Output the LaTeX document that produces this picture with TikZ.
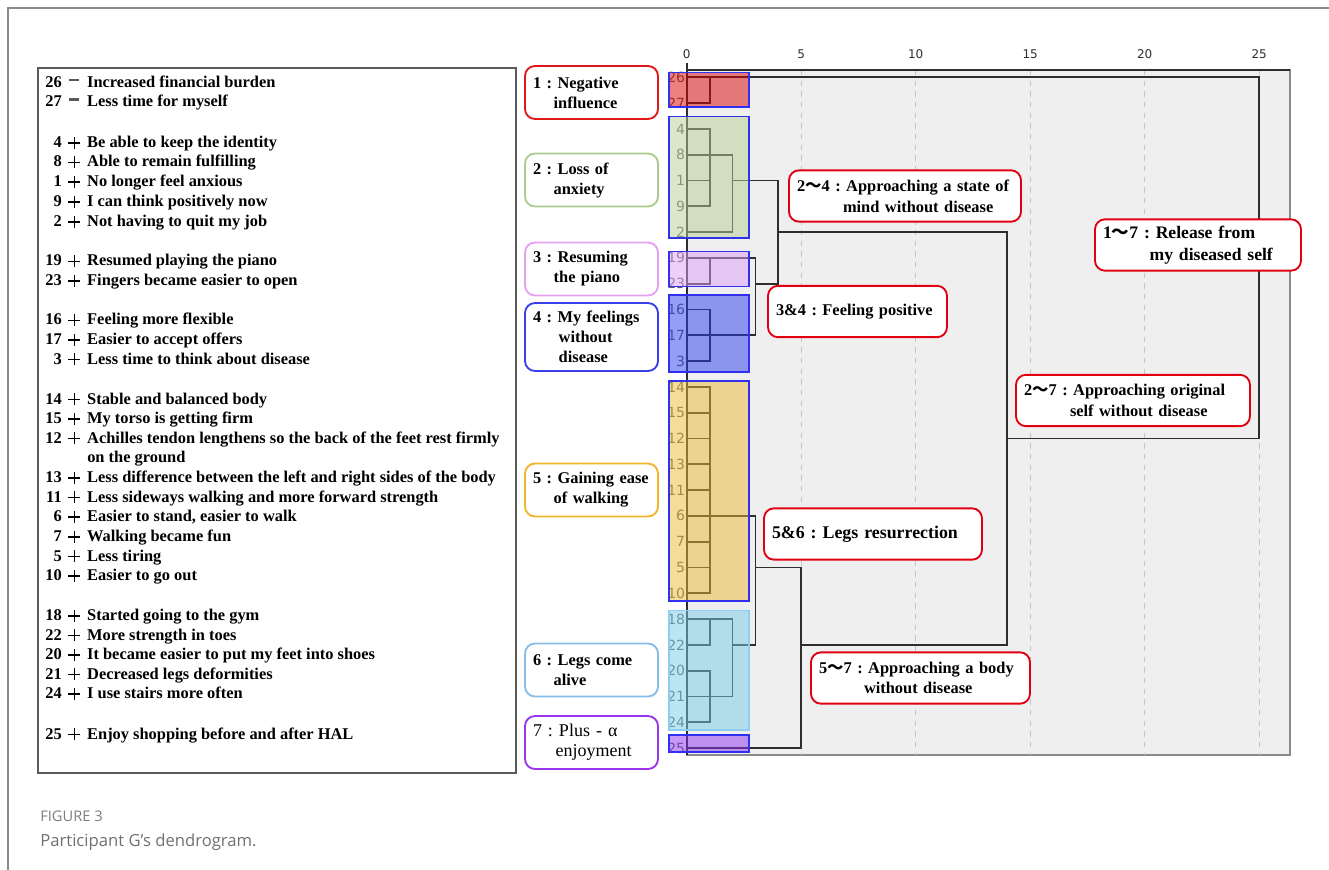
\documentclass[tikz,border=0pt]{standalone}
\usepackage{fontspec}
\setmainfont{Liberation Serif}
\newfontfamily\chartfont{DejaVu Sans}
\newfontfamily\capfont{Open Sans}
\newfontfamily\cjk{Noto Sans CJK JP}
\frenchspacing

\definecolor{lineGray}{HTML}{2E2E2E}
\definecolor{leafGray}{HTML}{5E5E5E}
\definecolor{plotBg}{HTML}{EFEFEF}
\definecolor{frameGray}{HTML}{8A8A8A}
\definecolor{boxGray}{HTML}{5A5A5A}
\definecolor{gridGray}{HTML}{C4C4C4}
\definecolor{capGray}{HTML}{7E7E7E}
\definecolor{capText}{HTML}{707070}
\definecolor{noteRed}{HTML}{E00010}
\definecolor{groupBlue}{HTML}{3030F0}
\definecolor{c1Red}{HTML}{E01818}
\definecolor{c2Green}{HTML}{A9CB8E}
\definecolor{c3Pink}{HTML}{E6A0F2}
\definecolor{c4Blue}{HTML}{3A3FEA}
\definecolor{c5Gold}{HTML}{F0B52A}
\definecolor{c6Sky}{HTML}{86BDEA}
\definecolor{c7Purple}{HTML}{9A35EC}
\definecolor{fRed}{HTML}{DB0000}
\definecolor{fGreen}{HTML}{B7CF93}
\definecolor{fPink}{HTML}{E19DF5}
\definecolor{fBlue}{HTML}{293DED}
\definecolor{fGold}{HTML}{EBB931}
\definecolor{fSky}{HTML}{77CBE7}
\definecolor{fPurple}{HTML}{8D33F1}
\definecolor{skyEdge}{HTML}{8ECDF0}

\newcommand{\lead}[2]{\makebox[16.1pt][r]{#1}\makebox[19.1pt]{#2}}
\newcommand{\plussign}{\raisebox{2.8pt}{\rlap{\rule{9pt}{1.2pt}}}\hspace*{3.9pt}\raisebox{-1.1pt}{\rule{1.2pt}{9pt}}\hspace*{3.9pt}}
\newcommand{\minussign}{\raisebox{4.6pt}{\color{boxGray}\rule{7.5pt}{1.8pt}}}
\newcommand{\wave}{{\cjk ～}}

\begin{document}
\begin{tikzpicture}[x=0.75pt, y=-0.75pt,
  every node/.style={font=\bfseries\fontsize{12.3}{15}\selectfont},
  entry/.style={anchor=base west, inner sep=0pt},
  clusterbox/.style={draw, fill=white, rounded corners=7.5pt, line width=1.4pt, align=left, text width=87.75pt, inner xsep=6pt, minimum height=39.75pt},
  notebox/.style={draw=noteRed, fill=white, rounded corners=7.5pt, line width=1.4pt, align=left, inner xsep=6pt, minimum height=38.5pt, font=\bfseries\fontsize{12.3}{15.5}\selectfont},
  leaf/.style={anchor=east, inner sep=1pt, font=\chartfont\fontsize{10.5}{11}\selectfont, text=leafGray},
  tick/.style={font=\chartfont\fontsize{9}{10}\selectfont, text=lineGray},
  dline/.style={draw=lineGray, line width=1.35pt},
  gridline/.style={draw=gridGray, line width=0.7pt, dash pattern=on 4pt off 4pt},
  group/.style={fill opacity=0.5, draw=groupBlue, line width=0.8pt}
]
  \useasboundingbox (0,0) rectangle (1329,870);
  \draw[frameGray, line width=1pt] (8,870) -- (8,8) -- (1329,8);

  \draw[draw=boxGray, line width=1pt] (38,68) rectangle (516,773);
  \node[entry] (i26) at (40,87.5) {\lead{26}{\minussign}Increased financial burden};
  \node[entry] (i27) at (40,107) {\lead{27}{\minussign}Less time for myself};
  \node[entry] (i4) at (40,147.5) {\lead{4}{\plussign}Be able to keep the identity};
  \node[entry] (i8) at (40,167) {\lead{8}{\plussign}Able to remain fulfilling};
  \node[entry] (i1) at (40,186.5) {\lead{1}{\plussign}No longer feel anxious};
  \node[entry] (i9) at (40,206.5) {\lead{9}{\plussign}I can think positively now};
  \node[entry] (i2) at (40,226.5) {\lead{2}{\plussign}Not having to quit my job};
  \node[entry] (i19) at (40,266) {\lead{19}{\plussign}Resumed playing the piano};
  \node[entry] (i23) at (40,285.5) {\lead{23}{\plussign}Fingers became easier to open};
  \node[entry] (i16) at (40,325) {\lead{16}{\plussign}Feeling more flexible};
  \node[entry] (i17) at (40,344.5) {\lead{17}{\plussign}Easier to accept offers};
  \node[entry] (i3) at (40,364) {\lead{3}{\plussign}Less time to think about disease};
  \node[entry] (i14) at (40,404) {\lead{14}{\plussign}Stable and balanced body};
  \node[entry] (i15) at (40,423.5) {\lead{15}{\plussign}My torso is getting firm};
  \node[entry] (i12) at (40,443) {\lead{12}{\plussign}Achilles tendon lengthens so the back of the feet rest firmly};
  \node[entry] (i12b) at (87,462.5) {on the ground};
  \node[entry] (i13) at (40,482.5) {\lead{13}{\plussign}Less difference between the left and right sides of the body};
  \node[entry] (i11) at (40,502) {\lead{11}{\plussign}Less sideways walking and more forward strength};
  \node[entry] (i6) at (40,521.5) {\lead{6}{\plussign}Easier to stand, easier to walk};
  \node[entry] (i7) at (40,541.5) {\lead{7}{\plussign}Walking became fun};
  \node[entry] (i5) at (40,561) {\lead{5}{\plussign}Less tiring};
  \node[entry] (i10) at (40,580.5) {\lead{10}{\plussign}Easier to go out};
  \node[entry] (i18) at (40,620.5) {\lead{18}{\plussign}Started going to the gym};
  \node[entry] (i22) at (40,640) {\lead{22}{\plussign}More strength in toes};
  \node[entry] (i20) at (40,659.5) {\lead{20}{\plussign}It became easier to put my feet into shoes};
  \node[entry] (i21) at (40,679) {\lead{21}{\plussign}Decreased legs deformities};
  \node[entry] (i24) at (40,698.5) {\lead{24}{\plussign}I use stairs more often};
  \node[entry] (i25) at (40,739) {\lead{25}{\plussign}Enjoy shopping before and after HAL};

  \node[clusterbox, draw=c1Red] (g1) at (591.5,92.5) {1 : Negative\\\hspace*{15.5pt}influence};
  \node[clusterbox, draw=c2Green] (g2) at (591.5,180) {2 : Loss of\\\hspace*{15.5pt}anxiety};
  \node[clusterbox, draw=c3Pink] (g3) at (591.5,269) {3 : Resuming\\\hspace*{15.5pt}the piano};
  \node[clusterbox, draw=c4Blue, minimum height=51pt] (g4) at (591.5,337) {4 : My feelings\\\hspace*{19.3pt}without\\\hspace*{19.3pt}disease};
  \node[clusterbox, draw=c5Gold] (g5) at (591.5,490) {5 : Gaining ease\\\hspace*{15.5pt}of walking};
  \node[clusterbox, draw=c6Sky] (g6) at (591.5,670) {6 : Legs come\\\hspace*{15.5pt}alive};
  \node[clusterbox, draw=c7Purple, font=\mdseries\fontsize{13.5}{15}\selectfont] (g7) at (591.5,742.5) {7 : Plus - α\\\hspace*{17pt}enjoyment};

  \draw[draw=frameGray, fill=plotBg, line width=0.9pt] (686.7,70) rectangle (1290,755);
  \draw[gridline] (801.2,70) -- (801.2,755);
  \draw[gridline] (915.7,70) -- (915.7,755);
  \draw[gridline] (1030.2,70) -- (1030.2,755);
  \draw[gridline] (1144.7,70) -- (1144.7,755);
  \draw[gridline] (1259.2,70) -- (1259.2,755);
  \draw[lineGray, line width=1.4pt] (686.7,70) -- (1290,70);
  \draw[lineGray, line width=1.2pt] (686.7,63) -- (686.7,755);
  \node[tick] (t0) at (686.7,54) {0};
  \node[tick] (t5) at (801.2,54) {5};
  \node[tick] (t10) at (915.7,54) {10};
  \node[tick] (t15) at (1030.2,54) {15};
  \node[tick] (t20) at (1144.7,54) {20};
  \node[tick] (t25) at (1259.2,54) {25};

  \begin{scope}[shift={(686.7,77.3)}, x=17.175pt, y=-19.35pt]
    \draw[dline] (0,0) -- (25,0) -- (25,14) -- (14,14);
    \draw[dline] (0,1) -- (1,1) -- (1,0);
    \draw[dline] (0,2) -- (1,2) -- (1,5) -- (0,5);
    \draw[dline] (0,3) -- (2,3) -- (2,6) -- (0,6);
    \draw[dline] (0,4) -- (1,4);
    \draw[dline] (2,4) -- (4,4) -- (4,8) -- (3,8);
    \draw[dline] (4,6) -- (14,6) -- (14,22) -- (5,22);
    \draw[dline] (0,7) -- (3,7) -- (3,10) -- (0,10);
    \draw[dline] (0,8) -- (1,8) -- (1,7);
    \draw[dline] (0,9) -- (1,9) -- (1,11) -- (0,11);
    \draw[dline] (0,12) -- (1,12) -- (1,20) -- (0,20);
    \draw[dline] (0,13) -- (1,13);
    \draw[dline] (0,14) -- (1,14);
    \draw[dline] (0,15) -- (1,15);
    \draw[dline] (0,16) -- (1,16);
    \draw[dline] (0,18) -- (1,18);
    \draw[dline] (0,19) -- (1,19);
    \draw[dline] (0,17) -- (3,17) -- (3,22) -- (2,22);
    \draw[dline] (3,19) -- (5,19) -- (5,26) -- (0,26);
    \draw[dline] (0,21) -- (2,21) -- (2,24) -- (0,24);
    \draw[dline] (0,22) -- (1,22) -- (1,21);
    \draw[dline] (0,23) -- (1,23) -- (1,25) -- (0,25);

    \node[leaf] (l26) at (0,0) {26};
    \node[leaf] (l27) at (0,1) {27};
    \node[leaf] (l4) at (0,2) {4};
    \node[leaf] (l8) at (0,3) {8};
    \node[leaf] (l1) at (0,4) {1};
    \node[leaf] (l9) at (0,5) {9};
    \node[leaf] (l2) at (0,6) {2};
    \node[leaf] (l19) at (0,7) {19};
    \node[leaf] (l23) at (0,8) {23};
    \node[leaf] (l16) at (0,9) {16};
    \node[leaf] (l17) at (0,10) {17};
    \node[leaf] (l3) at (0,11) {3};
    \node[leaf] (l14) at (0,12) {14};
    \node[leaf] (l15) at (0,13) {15};
    \node[leaf] (l12) at (0,14) {12};
    \node[leaf] (l13) at (0,15) {13};
    \node[leaf] (l11) at (0,16) {11};
    \node[leaf] (l6) at (0,17) {6};
    \node[leaf] (l7) at (0,18) {7};
    \node[leaf] (l5) at (0,19) {5};
    \node[leaf] (l10) at (0,20) {10};
    \node[leaf] (l18) at (0,21) {18};
    \node[leaf] (l22) at (0,22) {22};
    \node[leaf] (l20) at (0,23) {20};
    \node[leaf] (l21) at (0,24) {21};
    \node[leaf] (l24) at (0,25) {24};
    \node[leaf] (l25) at (0,26) {25};
  \end{scope}

  \draw[group, fill=fRed] (669,72.7) rectangle (749,107);
  \draw[group, fill=fGreen] (669,116.7) rectangle (749,238);
  \draw[group, fill=fPink] (669,251.7) rectangle (749,286.7);
  \draw[group, fill=fBlue] (669,295) rectangle (749,372);
  \draw[group, fill=fGold] (669,381) rectangle (749,601);
  \draw[group, fill=fSky, draw=skyEdge] (669,610.7) rectangle (749,730);
  \draw[group, fill=fPurple] (669,735) rectangle (749,752);

  \node[notebox, text width=162pt] (n24) at (905,196) {2\wave4 : Approaching a state of\\\hspace*{34.5pt}mind without disease};
  \node[notebox, text width=122.25pt] (n34) at (857.5,311.5) {3\&4 : Feeling positive};
  \node[notebox, text width=142.5pt, font=\bfseries\fontsize{13.2}{16.5}\selectfont] (n17) at (1198,245) {1\wave7 : Release from\\\hspace*{35pt}my diseased self};
  \node[notebox, text width=163.5pt] (n27) at (1133,400.5) {2\wave7 : Approaching original\\\hspace*{34.5pt}self without disease};
  \node[notebox, text width=151.5pt, font=\bfseries\fontsize{13.4}{16}\selectfont] (n56) at (873,534) {5\&6 : Legs resurrection};
  \node[notebox, text width=152.25pt] (n57) at (920.5,678) {5\wave7 : Approaching a body\\\hspace*{33.75pt}without disease};

  \node[anchor=base west, inner sep=0pt, font=\capfont\fontsize{11}{12}\selectfont, text=capGray] (fig) at (40,821.5) {FIGURE 3};
  \node[anchor=base west, inner sep=0pt, font=\capfont\fontsize{12.5}{14}\selectfont, text=capText] (cap) at (40,846) {Participant G’s dendrogram.};
\end{tikzpicture}
\end{document}
